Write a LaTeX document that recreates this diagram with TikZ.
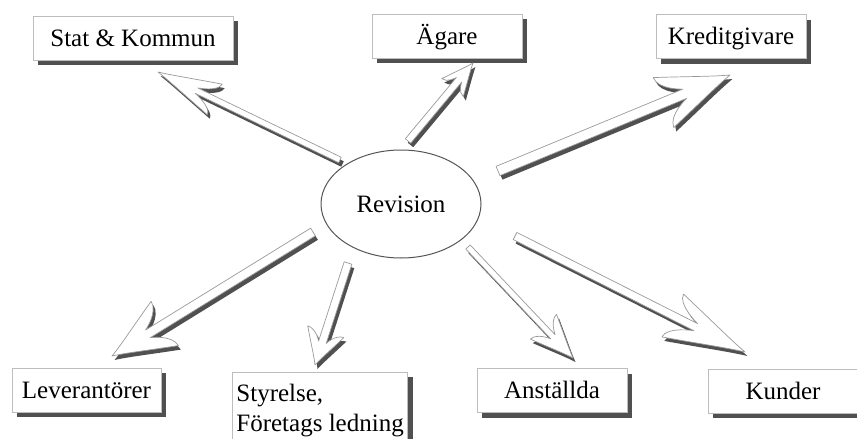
\documentclass[tikz,border=0pt]{standalone}
\usepackage{fontspec}
\setmainfont{Liberation Serif}
\usetikzlibrary{shapes.geometric,shadows,calc}

\definecolor{shadowgray}{HTML}{505050}
\definecolor{boxedge}{HTML}{BDBDBD}
\definecolor{arrowedge}{HTML}{9A9A9A}
\definecolor{ringgray}{HTML}{555555}

\newcommand\labelfont{\fontsize{25}{30}\selectfont}

% Hollow 3D arrow from coordinate #1 to coordinate #2
% #3 shaft half width, #4 head length, #5 head half width (all in pt)
\newcommand\revarrow[5]{%
  \pgfpointdiff{\pgfpointanchor{#1}{center}}{\pgfpointanchor{#2}{center}}%
  \pgfgetlastxy{\arx}{\ary}%
  \pgfmathsetmacro\aang{atan2(\ary,\arx)}%
  \pgfmathsetmacro\alen{veclen(\arx,\ary)}%
  \pgfmathsetmacro\abase{\alen-#4}%
  \pgfmathsetmacro\anotch{\alen-0.68*#4}%
  \pgfmathsetmacro\acone{\alen-0.55*#4}%
  \pgfmathsetmacro\actwo{\alen-0.22*#4}%
  \pgfmathsetmacro\awone{0.55*#5}%
  \pgfmathsetmacro\awtwo{0.18*#5}%
  \def\arrowoutline{(0pt,-#3pt) -- (\anotch pt,-#3pt)
    .. controls (\anotch pt,-#3pt) and (\abase pt,-0.5*#5pt) .. (\abase pt,-#5pt)
    .. controls (\acone pt,-\awone pt) and (\actwo pt,-\awtwo pt) .. (\alen pt,0pt)
    .. controls (\actwo pt,\awtwo pt) and (\acone pt,\awone pt) .. (\abase pt,#5pt)
    .. controls (\abase pt,0.5*#5pt) and (\anotch pt,#3pt) .. (\anotch pt,#3pt)
    -- (0pt,#3pt) -- cycle}%
  \begin{scope}[shift={(#1)}, xshift=2.5pt, yshift=-4pt, rotate=\aang]
    \fill[shadowgray] \arrowoutline;
  \end{scope}
  \begin{scope}[shift={(#1)}, rotate=\aang]
    \filldraw[fill=white, draw=arrowedge, line width=0.7pt, line join=round] \arrowoutline;
  \end{scope}}

\begin{document}
\begin{tikzpicture}[x=1pt, y=-1pt,
  entity/.style={draw=boxedge, line width=0.8pt, fill=white,
    minimum width=150pt, minimum height=44pt, inner sep=0pt,
    font=\labelfont,
    general shadow={fill=shadowgray, shadow xshift=5pt, shadow yshift=-5pt}},
  onerow/.style={text height=16pt, text depth=0pt},
  hub/.style={ellipse, draw=ringgray, line width=1pt, fill=white,
    minimum width=160pt, minimum height=108pt, font=\labelfont}]

\useasboundingbox (0,0) rectangle (857,439);
\fill[white] (0,0) rectangle (857,439);

% centre
\node[hub] (rev) at (401,204) {Revision};

% stakeholders
\node[entity, onerow, minimum width=200pt] (stat) at (133,38) {Stat \& Kommun};
\node[entity, onerow] (agare) at (447,36) {Ägare};
\node[entity, onerow] (kredit) at (731,36.5) {Kreditgivare};
\node[entity, onerow, minimum width=149pt] (lev) at (86.5,390) {Leverantörer};
\node[entity, anchor=north west, minimum width=175pt, minimum height=76pt,
      align=left, inner xsep=4pt] (styr) at (232,372)
      {Styrelse,\\Företags ledning};
\node[entity, onerow] (anst) at (552,390.5) {Anställda};
\node[entity, onerow] (kund) at (783,391) {Kunder};

% arrow end points
\coordinate (t1) at (340,160); \coordinate (h1) at (158,72);
\coordinate (t2) at (408,141); \coordinate (h2) at (473,63);
\coordinate (t3) at (498,171); \coordinate (h3) at (730,75);
\coordinate (t4) at (313,232); \coordinate (h4) at (112,356);
\coordinate (t5) at (348,263); \coordinate (h5) at (315,365);
\coordinate (t6) at (468,247); \coordinate (h6) at (573,358);
\coordinate (t7) at (515,236); \coordinate (h7) at (745,352);

\revarrow{t1}{h1}{3}{63}{17}
\revarrow{t2}{h2}{3.5}{32}{14}
\revarrow{t3}{h3}{5}{72}{27}
\revarrow{t4}{h4}{4.5}{62}{26}
\revarrow{t5}{h5}{4}{35}{19}
\revarrow{t6}{h6}{3}{43}{18}
\revarrow{t7}{h7}{4}{81}{24}
\end{tikzpicture}
\end{document}
